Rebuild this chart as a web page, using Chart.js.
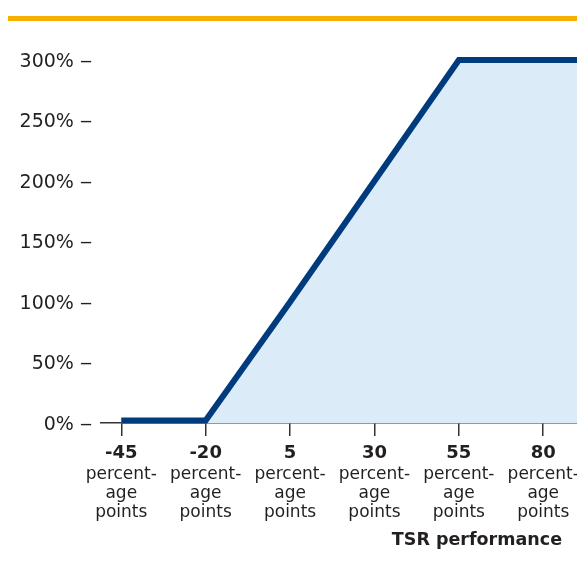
<!DOCTYPE html>
<html>
<head>
<meta charset="utf-8">
<script src="https://cdn.jsdelivr.net/npm/chart.js@4"></script>
<style>
    html, body { margin: 0; padding: 0; background: #fff; }
    #wrap { position: relative; width: 577px; height: 588px; }
    #rule { position: absolute; left: 8px; top: 16px; width: 569px; height: 5px; background: #F8B000; }
    canvas { position: absolute; left: 0; top: 0; }
</style>
</head>
<body>
<div id="wrap">
    <canvas id="chart-container" width="577" height="588"></canvas>
    <div id="rule"></div>
</div>
<script>
// TSR performance (percentage points) and payout (%)
const tsrPoints = [-45, -20, 5, 30, 55, 80, 90];
const payout = [2, 2, 100, 200, 300, 300, 300];

const tickValues = [-45, -20, 5, 30, 55, 80];
const tickNumbers = ["-45", "-20", "5", "30", "55", "80"];
const tickUnitLines = ["percent-", "age", "points"];
const axisTitle = "TSR performance";

const textColor = "#231f20";
const fontFamily = "'DejaVu Sans', sans-serif";

const xLabelsPlugin = {
    id: "xLabels",
    afterDraw: function (chart) {
        const ctx = chart.ctx;
        const xScale = chart.scales.x;
        const bottom = chart.chartArea.bottom;

        ctx.save();
        ctx.fillStyle = textColor;
        ctx.textAlign = "center";
        ctx.textBaseline = "middle";

        tickValues.forEach(function (value, i) {
            const x = xScale.getPixelForValue(value);
            ctx.font = "bold 18px " + fontFamily;
            ctx.fillText(tickNumbers[i], x, bottom + 30);
            ctx.font = "17px " + fontFamily;
            tickUnitLines.forEach(function (line, j) {
                ctx.fillText(line, x, bottom + 52 + j * 19);
            });
        });

        ctx.font = "bold 17.5px " + fontFamily;
        ctx.textAlign = "right";
        ctx.fillText(axisTitle, chart.width - 15, bottom + 117);
        ctx.restore();
    }
};

document.addEventListener("DOMContentLoaded", function () {
    const ctx = document.getElementById("chart-container").getContext("2d");

    new Chart(ctx, {
        type: "line",
        data: {
            datasets: [
                {
                    data: tsrPoints.map(function (x, i) { return { x: x, y: payout[i] }; }),
                    borderColor: "#003B7E",
                    backgroundColor: "#DCEBF8",
                    borderWidth: 6,
                    borderJoinStyle: "miter",
                    borderCapStyle: "butt",
                    fill: "origin",
                    pointRadius: 0,
                    tension: 0,
                    clip: false,
                },
            ],
        },
        options: {
            responsive: false,
            animation: false,
            layout: {
                padding: { top: 60, right: 0, left: 0, bottom: 0 },
            },
            plugins: {
                legend: { display: false },
                tooltip: { enabled: false },
            },
            scales: {
                x: {
                    type: "linear",
                    min: -51,
                    max: 90,
                    afterBuildTicks: function (scale) {
                        scale.ticks = tickValues.map(function (v) { return { value: v }; });
                    },
                    afterFit: function (scale) {
                        scale.height = 165;
                    },
                    ticks: { display: false },
                    grid: {
                        drawOnChartArea: false,
                        drawTicks: true,
                        tickLength: 13,
                        color: "#333",
                        lineWidth: 1.5,
                    },
                    border: { display: true, color: "#333", width: 1.5 },
                },
                y: {
                    min: 0,
                    max: 300,
                    afterFit: function (scale) {
                        scale.width = 101;
                    },
                    ticks: {
                        stepSize: 50,
                        padding: 9,
                        labelOffset: 2,
                        color: textColor,
                        font: { family: fontFamily, size: 19 },
                        callback: function (value) {
                            return value + "% \u2012";
                        },
                    },
                    grid: { display: false, drawTicks: false },
                    border: { display: false },
                },
            },
        },
        plugins: [xLabelsPlugin],
    });
});
</script>
</body>
</html>
